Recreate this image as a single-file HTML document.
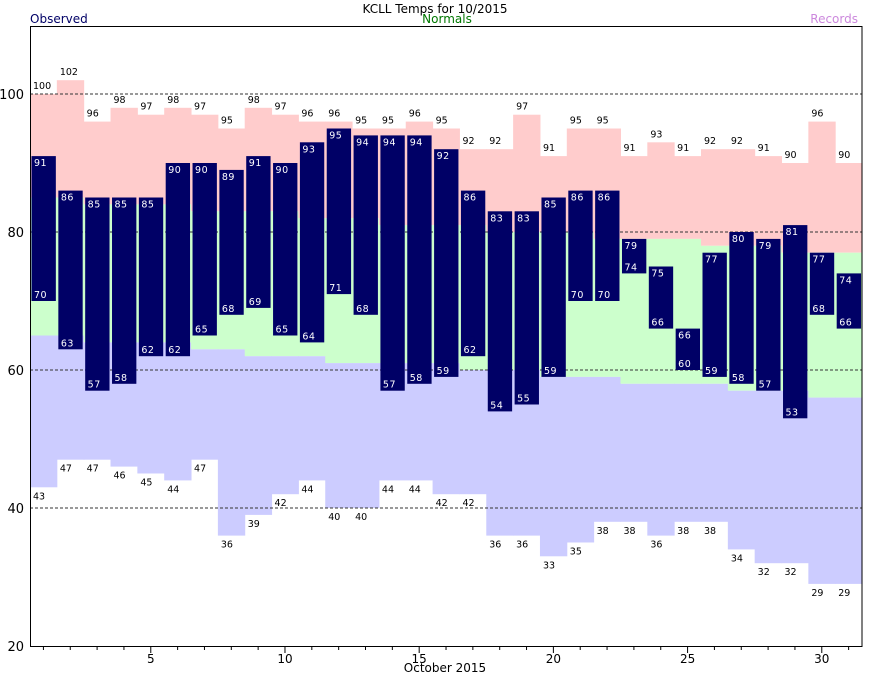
<!DOCTYPE html>
<html><head><meta charset="utf-8"><style>
body{margin:0;background:#fff}
svg{display:block;font-family:"DejaVu Sans","Liberation Sans",sans-serif}
</style></head><body>
<svg id="s" width="870" height="676" xmlns="http://www.w3.org/2000/svg"></svg>
<script>
const rh=[100,102,96,98,97,98,97,95,98,97,96,96,95,95,96,95,92,92,97,91,95,95,91,93,91,92,92,91,90,96,90];
const rl=[43,47,47,46,45,44,47,36,39,42,44,40,40,44,44,42,42,36,36,33,35,38,38,36,38,38,34,32,32,29,29];
const oh=[91,86,85,85,85,90,90,89,91,90,93,95,94,94,94,92,86,83,83,85,86,86,79,75,66,77,80,79,81,77,74];
const ol=[70,63,57,58,62,62,65,68,69,65,64,71,68,57,58,59,62,54,55,59,70,70,74,66,60,59,58,57,53,68,66];
const nl=[65,65,64,64,64,64,63,63,62,62,62,61,61,61,61,61,60,60,60,59,59,59,58,58,58,58,57,57,57,56,56];
const nh=[];for(let d=1;d<=31;d++)nh.push(Math.round(85-(d-1)*0.27));
const Y=v=>94+(100-v)*6.9, W=26.84, X0=30;
let h='';
const r=(x,y,w,hh,c)=>h+=`<rect x="${x}" y="${y}" width="${w}" height="${hh}" fill="${c}"/>`;
const t=(x,y,s,c,sz,a)=>h+=`<text x="${x}" y="${y}" fill="${c}" font-size="${sz}" ${a||''}>${s}</text>`;
for(let i=0;i<31;i++){const x=X0+i*W;
 r(x,Y(rh[i]),W+0.5,Y(nh[i])-Y(rh[i]),'#ffcccc');
 r(x,Y(nh[i]),W+0.5,Y(nl[i])-Y(nh[i]),'#ccffcc');
 r(x,Y(nl[i]),W+0.5,Y(rl[i])-Y(nl[i]),'#ccccff');}
[40,60,80,100].forEach(v=>h+=`<line x1="30" x2="862" y1="${Y(v)}" y2="${Y(v)}" stroke="#333" stroke-dasharray="3,2" stroke-width="1"/>`);
for(let i=0;i<31;i++){const x=X0+i*W;
 r(x+1.5,Y(oh[i]),W-2.5,Y(ol[i])-Y(oh[i]),'#000066');
 t(x+3,Y(rh[i])-5,rh[i],'#000',9.5);
 t(x+3,Y(rl[i])+12,rl[i],'#000',9.5);
 t(x+4,Y(oh[i])+10,oh[i],'#fff',9.5,'letter-spacing="0.5"');
 t(x+4,Y(ol[i])-3,ol[i],'#fff',9.5,'letter-spacing="0.5"');}
h+=`<rect x="30.5" y="26.5" width="831.5" height="620" fill="none" stroke="#000" stroke-width="1"/>`;
[20,40,60,80,100].forEach(v=>{t(24,Y(v)+5,v,'#000',13,'text-anchor="end"');});
for(let d=1;d<=31;d++){const x=X0+(d-0.5)*W;h+=`<line x1="${x}" x2="${x}" y1="647" y2="${d%5?650:653}" stroke="#000"/>`;if(d%5==0)t(x,663,d,'#000',12,'text-anchor="middle"');}
t(445,672,'October 2015','#000',12,'text-anchor="middle"');
t(435,13,'KCLL Temps for 10/2015','#000',12,'text-anchor="middle"');
t(30,23,'Observed','#000066',12);
t(447,23,'Normals','#007700',12,'text-anchor="middle"');
t(858,23,'Records','#cc88dd',12,'text-anchor="end"');
document.getElementById('s').innerHTML=h;
</script>
</body></html>
